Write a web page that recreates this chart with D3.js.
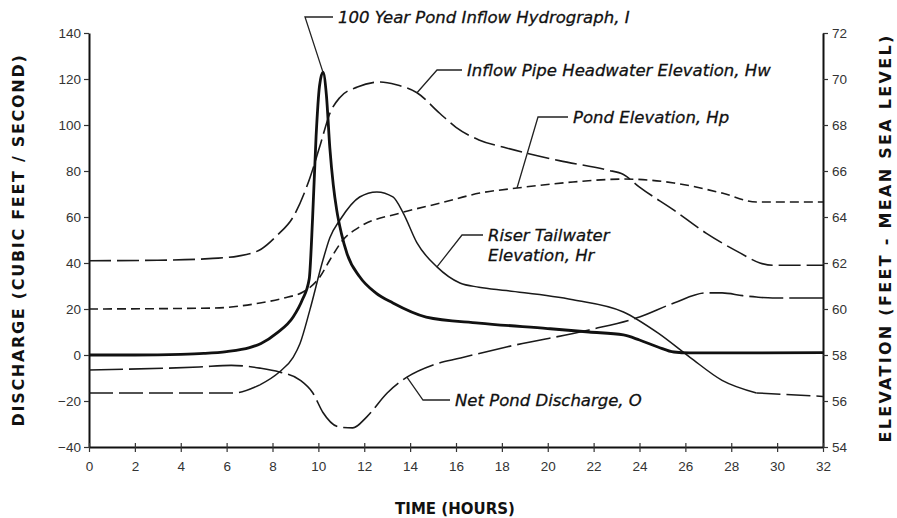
<!DOCTYPE html>
<html>
<head>
<meta charset="utf-8">
<script src="https://cdn.jsdelivr.net/npm/d3@7"></script>
<style>
    body { margin: 0; background: #fff; }
    .tick-label { font-family: 'Liberation Sans', Arial, sans-serif; font-size: 13.5px; fill: #333; }
    .axis-title { font-family: 'DejaVu Sans', sans-serif; font-size: 16px; font-weight: bold; fill: #111; }
    .note { font-family: 'DejaVu Sans', sans-serif; font-size: 16.5px; font-style: italic; fill: #111; stroke: #111; stroke-width: 0.3; }
    .leader { fill: none; stroke: #222; stroke-width: 1.3; }
</style>
</head>
<body>
<svg id="chart" width="897" height="518"></svg>
<script>
// time axis (hours)
const timeTicks = [0, 2, 4, 6, 8, 10, 12, 14, 16, 18, 20, 22, 24, 26, 28, 30, 32];
const dischargeTicks = [-40, -20, 0, 20, 40, 60, 80, 100, 120, 140];
const elevationTicks = [54, 56, 58, 60, 62, 64, 66, 68, 70, 72];

// 100 year pond inflow hydrograph, I  [hours, cfs]
const inflow = [
    [0, 0], [2, 0], [4, 0.3], [5, 0.7], [6, 1.5], [7, 3.2], [7.5, 5], [8.2, 9.6], [8.9, 16.5],
    [9.3, 24], [9.6, 33], [9.75, 60], [9.9, 95], [10.05, 117], [10.2, 123], [10.35, 113],
    [10.5, 90], [10.65, 74], [10.8, 63], [11.0, 53], [11.25, 44], [11.8, 34], [12.5, 27],
    [13.25, 22.6], [14.7, 16.5], [17, 13.9], [20, 11.5], [21.8, 10], [23.3, 8.7], [24, 6.5],
    [24.8, 3.5], [25.5, 1.3], [26.2, 0.9], [32, 1]
];
// net pond discharge, O  [hours, cfs]
const netDischarge = [
    [0, -6.5], [4.8, -5.2], [6.2, -4.5], [7.45, -5.7], [8.3, -7.4], [9.2, -10.9], [9.76, -16.5],
    [10.2, -25], [10.9, -31.3], [11.5, -31.7], [12.1, -27], [13, -16.5], [13.86, -9.6], [15, -4.3],
    [16.2, -1.3], [18.2, 3.5], [21.8, 10.9], [24, 16.5], [25.5, 22.6], [26.9, 27], [27.6, 27],
    [28.5, 25.8], [29.1, 25.2], [29.8, 24.8], [32, 24.8]
];
// inflow pipe headwater elevation, Hw  [hours, ft]
const headwater = [
    [0, 62.1], [3, 62.12], [5.4, 62.2], [6.5, 62.3], [7.5, 62.6], [8.2, 63.2], [8.9, 64.0],
    [9.63, 65.7], [10.1, 67.2], [10.5, 68.5], [10.94, 69.2], [11.7, 69.65], [12.7, 69.87],
    [13.4, 69.75], [14.3, 69.4], [15.3, 68.5], [16, 67.9], [17, 67.35], [18.2, 67.0],
    [20.5, 66.45], [22.6, 66.04], [23.3, 65.85], [24, 65.3], [25.5, 64.3], [26.9, 63.3],
    [28.4, 62.43], [29.25, 62.0], [29.8, 61.9], [32, 61.9]
];
// pond elevation, Hp  [hours, ft]
const pond = [
    [0, 60.0], [5.4, 60.04], [7.45, 60.26], [8.6, 60.5], [9.33, 60.74], [10.07, 61.4],
    [10.5, 62.13], [11.07, 63.0], [11.8, 63.57], [13.56, 64.17], [15.3, 64.6], [17.04, 65.04],
    [18.66, 65.26], [21.1, 65.52], [23.3, 65.65], [25.5, 65.48], [27.6, 65.04], [29.1, 64.65],
    [32, 64.65]
];
// riser tailwater elevation, Hr  [hours, ft]
const tailwater = [
    [0, 56.35], [6.3, 56.35], [7.45, 56.7], [8.3, 57.26], [8.9, 57.9], [9.2, 58.5], [9.63, 59.96],
    [10.2, 62.13], [10.5, 63.1], [10.94, 63.87], [11.8, 64.87], [12.55, 65.09], [13.25, 64.87],
    [13.7, 64.17], [14.3, 62.87], [15.17, 61.83], [16.17, 61.13], [17, 60.95], [18.2, 60.8],
    [21.1, 60.4], [23.3, 59.87], [24.8, 58.96], [26.2, 57.9], [27.6, 56.9], [29.1, 56.35],
    [32, 56.2]
];

(function () {
    const svg = d3.select('#chart');
    const x = d3.scaleLinear().domain([0, 32]).range([89, 823]);
    const yQ = d3.scaleLinear().domain([-40, 140]).range([447, 33]);
    const yE = d3.scaleLinear().domain([54, 72]).range([447, 33]);

    const lineQ = d3.line().x(d => x(d[0])).y(d => yQ(d[1])).curve(d3.curveMonotoneX);
    const lineE = d3.line().x(d => x(d[0])).y(d => yE(d[1])).curve(d3.curveMonotoneX);

    // axes
    const left = svg.append('g').attr('transform', 'translate(89,0)')
        .call(d3.axisLeft(yQ).tickValues(dischargeTicks).tickSize(5).tickPadding(3).tickSizeOuter(0));
    const right = svg.append('g').attr('transform', 'translate(823,0)')
        .call(d3.axisRight(yE).tickValues(elevationTicks).tickSize(5).tickPadding(4).tickSizeOuter(0));
    const bottom = svg.append('g').attr('transform', 'translate(0,447)')
        .call(d3.axisBottom(x).tickValues(timeTicks).tickSize(5).tickPadding(9).tickSizeOuter(0));
    bottom.selectAll('.tick line').attr('y1', -4);

    [left, right, bottom].forEach(g => {
        g.select('.domain').attr('stroke', '#111').attr('stroke-width', 2);
        g.selectAll('.tick line').attr('stroke', '#333').attr('stroke-width', 1.2);
        g.selectAll('.tick text').attr('class', 'tick-label').attr('fill', null);
        g.attr('font-family', null).attr('font-size', null);
    });

    // curves
    svg.append('path').datum(headwater).attr('d', lineE)
        .attr('fill', 'none').attr('stroke', '#1a1a1a').attr('stroke-width', 1.6).attr('stroke-dasharray', '22,6');
    svg.append('path').datum(pond).attr('d', lineE)
        .attr('fill', 'none').attr('stroke', '#1a1a1a').attr('stroke-width', 1.6).attr('stroke-dasharray', '9,5');
    svg.append('path').datum(tailwater.filter(d => d[0] <= 7.45)).attr('d', lineE)
        .attr('fill', 'none').attr('stroke', '#1a1a1a').attr('stroke-width', 1.5).attr('stroke-dasharray', '24,6');
    svg.append('path').datum(tailwater.filter(d => d[0] >= 7.45 && d[0] <= 29.1)).attr('d', lineE)
        .attr('fill', 'none').attr('stroke', '#1a1a1a').attr('stroke-width', 1.5);
    svg.append('path').datum(tailwater.filter(d => d[0] >= 29.1)).attr('d', lineE)
        .attr('fill', 'none').attr('stroke', '#1a1a1a').attr('stroke-width', 1.5).attr('stroke-dasharray', '24,6');
    svg.append('path').datum(netDischarge).attr('d', lineQ)
        .attr('fill', 'none').attr('stroke', '#1a1a1a').attr('stroke-width', 1.6).attr('stroke-dasharray', '34,6');
    svg.append('path').datum(inflow).attr('d', lineQ)
        .attr('fill', 'none').attr('stroke', '#111').attr('stroke-width', 2.8);

    // labels with leader lines, anchored on the curves
    const notes = [
        { lines: ['100 Year Pond Inflow Hydrograph, I'], at: [10.2, yQ(123)], knee: [305, 17], tx: 338, ty: 23 },
        { lines: ['Inflow Pipe Headwater Elevation, Hw'], at: [14.3, yE(69.4)], knee: [437, 70], tx: 467, ty: 76 },
        { lines: ['Pond Elevation, Hp'], at: [18.66, yE(65.26)], knee: [538, 117], tx: 573, ty: 123 },
        { lines: ['Riser Tailwater', 'Elevation, Hr'], at: [15.17, yE(61.83)], knee: [462, 235], tx: 488, ty: 241 },
        { lines: ['Net Pond Discharge, O'], at: [13.86, yQ(-9.6)], knee: [423, 400], tx: 455, ty: 406 }
    ];
    notes.forEach(n => {
        const pts = [[x(n.at[0]), n.at[1]], n.knee, [n.tx - 5, n.knee[1]]];
        svg.append('path').attr('class', 'leader').attr('d', d3.line()(pts));
        const t = svg.append('text').attr('class', 'note').attr('x', n.tx).attr('y', n.ty);
        n.lines.forEach((s, i) => t.append('tspan').attr('x', n.tx).attr('dy', i ? 20 : 0).text(s));
    });

    // axis titles
    svg.append('text').attr('class', 'axis-title').attr('text-anchor', 'middle').style('letter-spacing', '1.7px')
        .attr('transform', 'translate(24,240) rotate(-90)').text('DISCHARGE (CUBIC FEET / SECOND)');
    svg.append('text').attr('class', 'axis-title').attr('text-anchor', 'middle').style('letter-spacing', '2.3px')
        .attr('transform', 'translate(891,238) rotate(-90)').text('ELEVATION (FEET - MEAN SEA LEVEL)');
    svg.append('text').attr('class', 'axis-title').attr('text-anchor', 'middle').style('font-size', '15px')
        .attr('x', 455).attr('y', 514).text('TIME (HOURS)');
})();
</script>
</body>
</html>
